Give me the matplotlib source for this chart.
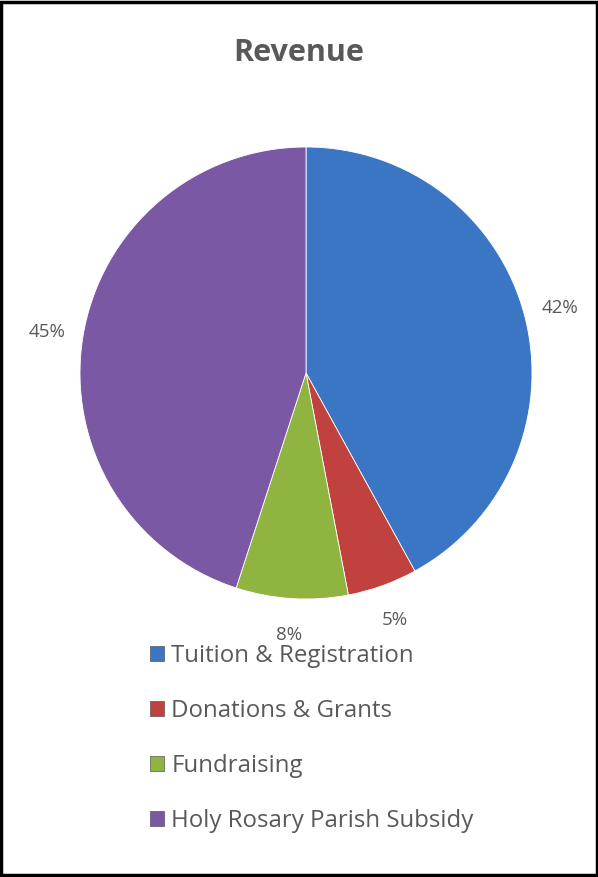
import matplotlib
matplotlib.use("Agg")
import matplotlib.pyplot as plt
from matplotlib.patches import Rectangle, Patch

# ----------------------------------
# DATA
# ----------------------------------

categories = [
    "Tuition & Registration",
    "Donations & Grants",
    "Fundraising",
    "Holy Rosary Parish Subsidy"
]

shares = [42, 5, 8, 45]

colors = ["#3B76C4", "#C0413E", "#8FB440", "#7A58A3"]

# ----------------------------------
# FIGURE
# ----------------------------------

plt.rcParams["font.family"] = ["Open Sans", "DejaVu Sans"]
text_color = "#595959"

fig = plt.figure(figsize=(5.98, 8.77), dpi=100)

ax = fig.add_axes([80 / 598, 1 - 599 / 877, 452 / 598, 452 / 877])

wedges, texts, autotexts = ax.pie(
    shares,
    colors=colors,
    startangle=90,
    counterclock=False,
    autopct="%1.0f%%",
    pctdistance=1.16,
    wedgeprops={"edgecolor": "#ffffff", "linewidth": 0.6},
    textprops={"fontsize": 13.5, "color": text_color}
)

ax.set_xlim(-1, 1)
ax.set_ylim(-1, 1)
ax.set_aspect("equal")

fig.text(
    0.5, 1 - 53 / 877,
    "Revenue",
    ha="center", va="center",
    fontsize=22, fontweight="bold",
    color=text_color
)

handles = [
    Patch(facecolor=c, edgecolor="#555555", linewidth=0.5)
    for c in colors
]

fig.legend(
    handles,
    categories,
    loc="upper left",
    bbox_to_anchor=(128 / 598, 1 - 622 / 877),
    frameon=False,
    fontsize=17.3,
    labelcolor=text_color,
    handlelength=0.6,
    handleheight=0.6,
    handletextpad=0.3,
    labelspacing=1.3
)

# outer border
fig.patches.append(
    Rectangle(
        (0.002, 0.002), 0.996, 0.996,
        transform=fig.transFigure,
        fill=False, edgecolor="black", linewidth=2.5
    )
)

fig.savefig("out.png", dpi=100, facecolor="white")
